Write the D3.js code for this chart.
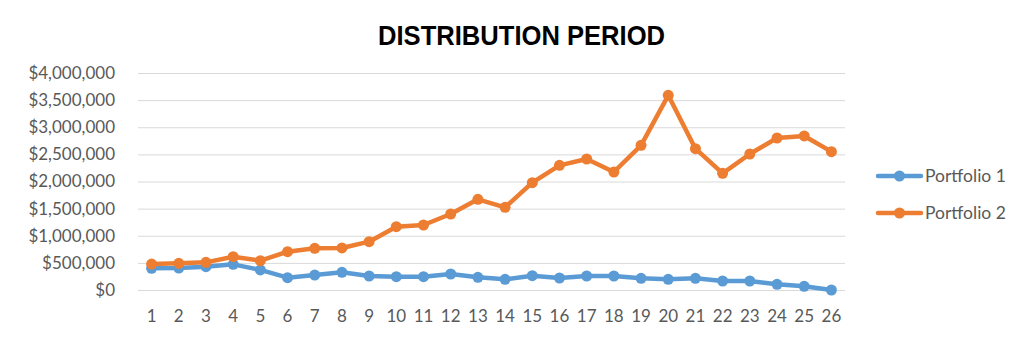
<!DOCTYPE html>
<html>
<head>
<meta charset="utf-8">
<script src="https://cdn.jsdelivr.net/npm/d3@7"></script>
<style>
  html, body { margin: 0; padding: 0; background: #fff; }
  svg { display: block; }
</style>
</head>
<body>
<svg id="chart" width="1024" height="347"></svg>
<script>
const title = "DISTRIBUTION PERIOD";
const categories = ["1","2","3","4","5","6","7","8","9","10","11","12","13","14","15","16","17","18","19","20","21","22","23","24","25","26"];
const seriesNames = ["Portfolio 1", "Portfolio 2"];
const portfolio1 = [400000, 405000, 430000, 473000, 370000, 227000, 276000, 326000, 258000, 246000, 246000, 295000, 234000, 197000, 264000, 221000, 258000, 258000, 215000, 197000, 215000, 166000, 166000, 105000, 68000, 0];
const portfolio2 = [479000, 492000, 510000, 614000, 540000, 706000, 768000, 775000, 891000, 1167000, 1198000, 1401000, 1672000, 1524000, 1978000, 2298000, 2415000, 2175000, 2667000, 3588000, 2605000, 2150000, 2507000, 2802000, 2839000, 2550000];
const yTicks = [0, 500000, 1000000, 1500000, 2000000, 2500000, 3000000, 3500000, 4000000];
const colors = ["#5B9BD5", "#ED7D31"];

const svg = d3.select("#chart");
const pLeft = 138, pRight = 845, pTop = 73, pBottom = 290;
const x = d3.scaleBand().domain(categories).range([pLeft, pRight]);
const y = d3.scaleLinear().domain([0, 4000000]).range([pBottom, pTop]);
const font = "Lato, 'Open Sans', sans-serif";

svg.append("text")
  .attr("x", 378).attr("y", 45)
  .attr("font-family", "'Liberation Sans', Arial, sans-serif")
  .attr("font-weight", "bold")
  .attr("font-size", 28)
  .attr("textLength", 287)
  .attr("lengthAdjust", "spacingAndGlyphs")
  .attr("fill", "#000")
  .text(title);

// gridlines + y labels
const yAxis = d3.axisLeft(y).tickValues(yTicks)
  .tickSize(-(pRight - pLeft))
  .tickFormat(d => "$" + d3.format(",")(d));
const gy = svg.append("g").attr("transform", `translate(${pLeft},0)`).call(yAxis);
gy.select(".domain").remove();
gy.selectAll(".tick line").attr("stroke", "#D9D9D9").attr("stroke-width", 1);
gy.selectAll(".tick text")
  .attr("x", -23)
  .attr("font-family", font)
  .attr("font-size", 17)
  .attr("fill", "#595959");

const gx = svg.append("g").attr("transform", `translate(0,${pBottom})`)
  .call(d3.axisBottom(x).tickSize(0));
gx.select(".domain").remove();
gx.selectAll(".tick text")
  .attr("dy", 0)
  .attr("y", 32)
  .attr("font-family", font)
  .attr("font-size", 17)
  .attr("fill", "#595959");

const cx = d => x(d) + x.bandwidth() / 2;
const line = d3.line().x((d, i) => cx(categories[i])).y(d => y(d));

[portfolio1, portfolio2].forEach((vals, s) => {
  const g = svg.append("g");
  g.append("path").datum(vals)
    .attr("d", line)
    .attr("fill", "none")
    .attr("stroke", colors[s])
    .attr("stroke-width", 4.5)
    .attr("stroke-linejoin", "round")
    .attr("stroke-linecap", "round");
  g.selectAll("circle").data(vals).join("circle")
    .attr("cx", (d, i) => cx(categories[i]))
    .attr("cy", d => y(d))
    .attr("r", 5.5)
    .attr("fill", colors[s]);
});

// legend
seriesNames.forEach((name, s) => {
  const ly = 176 + s * 37;
  const g = svg.append("g");
  g.append("line").attr("x1", 878).attr("x2", 921).attr("y1", ly).attr("y2", ly)
    .attr("stroke", colors[s]).attr("stroke-width", 4.5).attr("stroke-linecap", "round");
  g.append("circle").attr("cx", 899.5).attr("cy", ly).attr("r", 5.5).attr("fill", colors[s]);
  g.append("text").attr("x", 925).attr("y", ly + 6)
    .attr("font-family", font).attr("font-size", 17.5).attr("fill", "#595959").text(name);
});
</script>
</body>
</html>
